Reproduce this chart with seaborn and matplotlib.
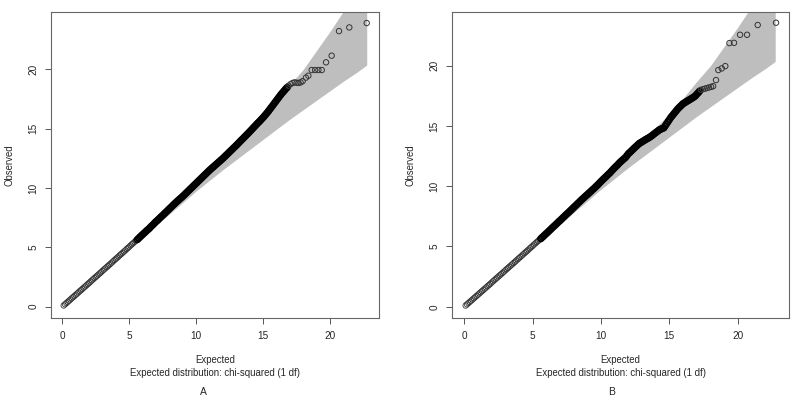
import numpy as np
import pandas as pd
import matplotlib
matplotlib.use("Agg")
import matplotlib.pyplot as plt
import seaborn as sns

# ---------------- data ----------------
# low (sparser) part of the chain, shared by both panels
low_exp = [0.1, 0.2, 0.3, 0.4, 0.5, 0.6, 0.7, 0.8, 0.9, 1.0, 1.1, 1.2, 1.3, 1.4,
           1.5, 1.6, 1.7, 1.8, 1.9, 2.0, 2.1, 2.2, 2.3, 2.4, 2.5, 2.6, 2.7, 2.8,
           2.9, 3.0, 3.1, 3.2, 3.3, 3.4, 3.5, 3.6, 3.7, 3.8, 3.9, 4.0, 4.1, 4.2,
           4.3, 4.4, 4.5, 4.6, 4.7, 4.8, 4.9, 5.0, 5.1, 5.2, 5.3, 5.4, 5.5]
low_obs = [0.1, 0.2, 0.3, 0.4, 0.5, 0.6, 0.7, 0.8, 0.9, 1.0, 1.1, 1.2, 1.3, 1.4,
           1.5, 1.6, 1.7, 1.8, 1.9, 2.0, 2.11, 2.21, 2.31, 2.41, 2.51, 2.61, 2.71,
           2.81, 2.91, 3.02, 3.12, 3.22, 3.32, 3.42, 3.52, 3.62, 3.72, 3.83, 3.93,
           4.03, 4.13, 4.23, 4.34, 4.44, 4.54, 4.64, 4.74, 4.85, 4.95, 5.05, 5.16,
           5.26, 5.36, 5.46, 5.57]

# dense (black) part, panel A
a_dense_exp = [5.6, 5.7, 5.8, 5.9, 6.0, 6.1, 6.2, 6.3, 6.4, 6.5, 6.6, 6.7, 6.8, 6.9,
               7.0, 7.1, 7.2, 7.3, 7.4, 7.5, 7.6, 7.7, 7.8, 7.9, 8.0, 8.1, 8.2, 8.3,
               8.4, 8.5, 8.6, 8.7, 8.8, 8.9, 9.0, 9.1, 9.2, 9.3, 9.4, 9.5, 9.6, 9.7,
               9.8, 9.9, 10.0, 10.1, 10.2, 10.3, 10.4, 10.5, 10.6, 10.7, 10.8, 10.9,
               11.0, 11.1, 11.2, 11.3, 11.4, 11.5, 11.6, 11.7, 11.8, 11.9, 12.0, 12.1,
               12.2, 12.3, 12.4, 12.5, 12.6, 12.7, 12.8, 12.9, 13.0, 13.1, 13.2, 13.3,
               13.4, 13.5, 13.6, 13.7, 13.8, 13.9, 14.0, 14.1, 14.2, 14.3, 14.4, 14.5,
               14.6, 14.7, 14.8, 14.9, 15.0, 15.1, 15.2, 15.3, 15.4, 15.5, 15.6, 15.7,
               15.8, 15.9, 16.0, 16.1, 16.2, 16.3, 16.4, 16.5, 16.6, 16.7, 16.8]
a_dense_obs = [5.65, 5.76, 5.87, 5.98, 6.08, 6.19, 6.29, 6.40, 6.50, 6.60, 6.72, 6.83,
               6.94, 7.06, 7.17, 7.27, 7.38, 7.49, 7.60, 7.70, 7.81, 7.92, 8.03, 8.14,
               8.25, 8.36, 8.47, 8.58, 8.69, 8.80, 8.90, 9.00, 9.10, 9.20, 9.30, 9.41,
               9.52, 9.63, 9.74, 9.85, 9.96, 10.07, 10.18, 10.29, 10.40, 10.51, 10.62,
               10.73, 10.84, 10.95, 11.06, 11.17, 11.28, 11.39, 11.50, 11.60, 11.70,
               11.80, 11.90, 12.00, 12.10, 12.20, 12.30, 12.40, 12.50, 12.61, 12.72,
               12.83, 12.94, 13.05, 13.16, 13.27, 13.38, 13.49, 13.60, 13.71, 13.83,
               13.95, 14.06, 14.17, 14.29, 14.40, 14.52, 14.63, 14.75, 14.87, 14.99,
               15.11, 15.23, 15.35, 15.47, 15.58, 15.70, 15.82, 15.94, 16.07, 16.20,
               16.34, 16.48, 16.63, 16.78, 16.93, 17.08, 17.23, 17.38, 17.53, 17.68,
               17.83, 17.97, 18.10, 18.23, 18.36, 18.48]
# top (individual) points, panel A
a_top_exp = [16.9, 17.05, 17.2, 17.35, 17.5, 17.65, 17.8, 17.95, 18.2, 18.38,
             18.63, 18.88, 19.13, 19.38, 19.7, 20.12, 20.67, 21.44, 22.74]
a_top_obs = [18.62, 18.75, 18.85, 18.9, 18.87, 18.85, 18.9, 19.0, 19.3, 19.46,
             19.94, 19.94, 19.94, 19.94, 20.59, 21.15, 23.22, 23.53, 23.9]

# dense (black) part, panel B
b_dense_exp = [5.6, 5.7, 5.8, 5.9, 6.0, 6.1, 6.2, 6.3, 6.4, 6.5, 6.6, 6.7, 6.8, 6.9,
               7.0, 7.1, 7.2, 7.3, 7.4, 7.5, 7.6, 7.7, 7.8, 7.9, 8.0, 8.1, 8.2, 8.3,
               8.4, 8.5, 8.6, 8.7, 8.8, 8.9, 9.0, 9.1, 9.2, 9.3, 9.4, 9.5, 9.6, 9.7,
               9.8, 9.9, 10.0, 10.1, 10.2, 10.3, 10.4, 10.5, 10.6, 10.7, 10.8, 10.9,
               11.0, 11.1, 11.2, 11.3, 11.4, 11.5, 11.6, 11.7, 11.8, 11.9, 12.0, 12.1,
               12.2, 12.3, 12.4, 12.5, 12.6, 12.7, 12.8, 12.9, 13.0, 13.1, 13.2, 13.3,
               13.4, 13.5, 13.6, 13.7, 13.8, 13.9, 14.0, 14.1, 14.2, 14.3, 14.4, 14.5,
               14.6, 14.7, 14.8, 14.9, 15.0, 15.1, 15.2, 15.3, 15.4, 15.5, 15.6, 15.7,
               15.8, 15.9, 16.0, 16.1, 16.2, 16.3, 16.4, 16.5, 16.6, 16.7, 16.8, 16.9,
               17.0, 17.1, 17.2]
b_dense_obs = [5.65, 5.76, 5.86, 5.97, 6.08, 6.18, 6.29, 6.40, 6.51, 6.62, 6.72, 6.83,
               6.94, 7.05, 7.15, 7.26, 7.37, 7.48, 7.59, 7.70, 7.80, 7.91, 8.02, 8.13,
               8.24, 8.35, 8.46, 8.57, 8.68, 8.79, 8.90, 9.00, 9.11, 9.21, 9.31, 9.42,
               9.52, 9.62, 9.73, 9.83, 9.94, 10.05, 10.16, 10.28, 10.40, 10.51, 10.62,
               10.73, 10.84, 10.95, 11.06, 11.17, 11.30, 11.42, 11.54, 11.65, 11.76,
               11.88, 12.00, 12.10, 12.20, 12.30, 12.40, 12.55, 12.70, 12.80, 12.91,
               13.02, 13.13, 13.24, 13.34, 13.45, 13.55, 13.62, 13.69, 13.76, 13.83,
               13.90, 13.96, 14.03, 14.10, 14.18, 14.27, 14.36, 14.45, 14.53, 14.62,
               14.70, 14.75, 14.80, 14.85, 15.02, 15.19, 15.36, 15.53, 15.70, 15.84,
               15.98, 16.12, 16.26, 16.40, 16.52, 16.63, 16.74, 16.85, 16.92, 16.99,
               17.06, 17.13, 17.20, 17.27, 17.34, 17.41, 17.50, 17.63, 17.75, 17.88]
# top (individual) points, panel B
b_top_exp = [17.3, 17.45, 17.6, 17.75, 17.9, 18.05, 18.2, 18.41, 18.58, 18.83,
             19.09, 19.39, 19.73, 20.17, 20.68, 21.46, 22.8]
b_top_obs = [18.0, 18.05, 18.1, 18.15, 18.2, 18.25, 18.3, 18.81, 19.64, 19.78,
             19.97, 21.88, 21.9, 22.57, 22.57, 23.38, 23.57]

# confidence band (shared)
band_exp = [0.0, 5.0, 10.0, 12.0, 13.0, 14.0, 15.0, 16.0, 17.0, 18.0, 19.0, 20.0,
            21.0, 22.0, 22.74]
band_hi = [0.0, 5.15, 10.45, 12.65, 13.75, 14.9, 16.0, 17.3, 18.7, 20.0, 21.6, 23.2,
           24.9, 26.6, 27.9]
band_lo = [0.0, 4.9, 9.75, 11.55, 12.4, 13.25, 14.1, 14.95, 15.8, 16.6, 17.4, 18.2,
           19.0, 19.75, 20.36]

ticks = [0, 5, 10, 15, 20]
panel_labels = ["A", "B"]
xlab = "Expected"
sublab = "Expected distribution: chi-squared (1 df)"
ylab = "Observed"

# ---------------- drawing ----------------
sns.set_style("white")
plt.rcParams["font.family"] = ["Liberation Sans", "DejaVu Sans"]

W, H = 800, 403
fig = plt.figure(figsize=(W / 100, H / 100), dpi=100)

def px_axes(l, r, t, b):
    return fig.add_axes([l / W, (H - b) / H, (r - l) / W, (b - t) / H])

panels = [
    dict(box=(50.7, 379.3, 12, 318.3), xlim=(-0.87, 23.68), ylim=(-0.98, 24.83),
         dense=(a_dense_exp, a_dense_obs), top=(a_top_exp, a_top_obs),
         lab_x=215, letter_x=203),
    dict(box=(451.7, 789.3, 12, 318.3), xlim=(-0.92, 23.77), ylim=(-0.96, 24.46),
         dense=(b_dense_exp, b_dense_obs), top=(b_top_exp, b_top_obs),
         lab_x=620.5, letter_x=612),
]

txt_col = "#262626"
fs = 6.9
for p, letter in zip(panels, panel_labels):
    ax = px_axes(*p["box"])
    ax.fill_between(band_exp, band_lo, band_hi, color="#bebebe", lw=0, zorder=1)

    sns.scatterplot(x=low_exp, y=low_obs, ax=ax, marker="o", s=15,
                    facecolor="none", edgecolor="#333333", linewidth=0.6, zorder=3)
    sns.scatterplot(x=p["dense"][0], y=p["dense"][1], ax=ax, marker="o", s=16,
                    facecolor="none", edgecolor="black", linewidth=1.3, zorder=3)
    sns.scatterplot(x=p["top"][0], y=p["top"][1], ax=ax, marker="o", s=15,
                    facecolor="none", edgecolor="#333333", linewidth=0.7, zorder=3)

    ax.set_xlim(*p["xlim"])
    ax.set_ylim(*p["ylim"])
    ax.set_xticks(ticks)
    ax.set_yticks(ticks)
    ax.set_xticklabels([str(t) for t in ticks])
    ax.set_yticklabels([str(t) for t in ticks], rotation=90, va="center")
    ax.tick_params(axis="both", direction="out", length=4.3, width=0.7,
                   colors="#555555", labelcolor=txt_col, labelsize=fs + 0.3, pad=4.5,
                   bottom=True, left=True)
    for s in ax.spines.values():
        s.set_visible(True)
        s.set_color("#666666")
        s.set_linewidth(0.8)
    ax.set_xlabel("")
    ax.set_ylabel(ylab, fontsize=fs, color=txt_col)
    ax.yaxis.set_label_coords(-36.0 / (p["box"][1] - p["box"][0]), 0.5)

    fig.text(p["lab_x"] / W, 1 - 360 / H, xlab, ha="center", va="center",
             fontsize=fs, color=txt_col)
    fig.text(p["lab_x"] / W, 1 - 372.5 / H, sublab, ha="center", va="center",
             fontsize=fs, color=txt_col)
    fig.text(p["letter_x"] / W, 1 - 392 / H, letter, ha="center", va="center",
             fontsize=fs + 0.6, color=txt_col)

fig.savefig("out.png", dpi=100)
